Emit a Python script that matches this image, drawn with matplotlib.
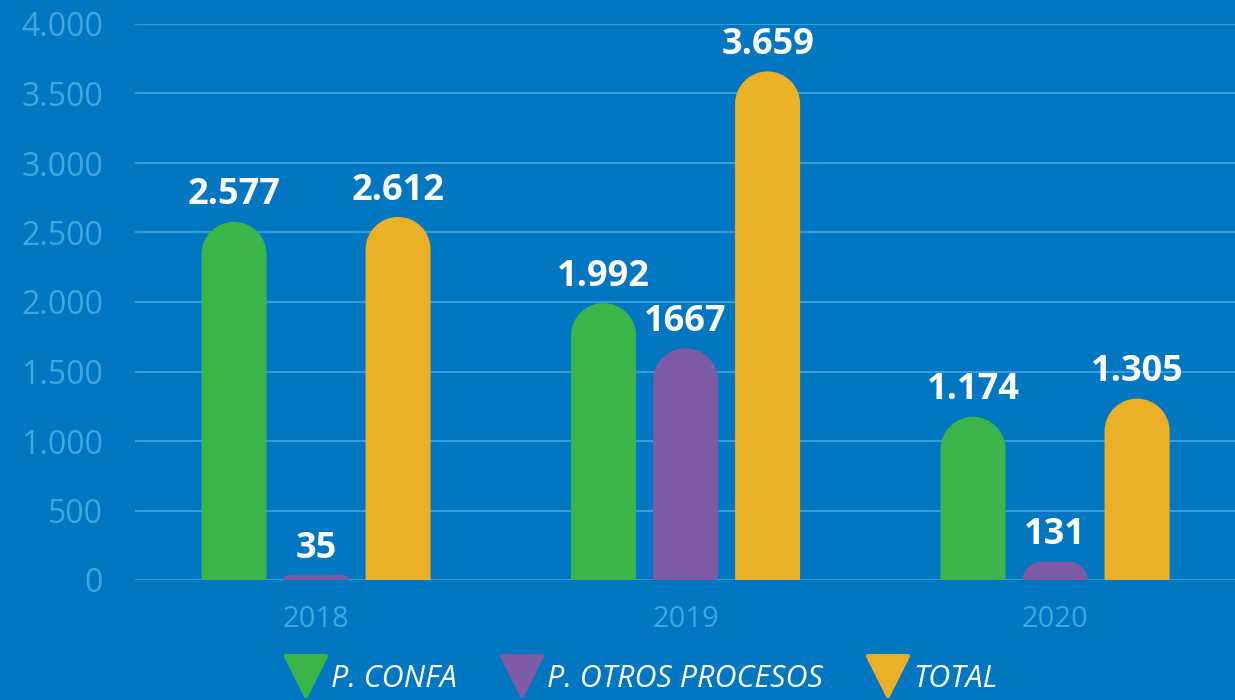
import matplotlib.pyplot as plt
from matplotlib.path import Path
from matplotlib.patches import PathPatch
from matplotlib.lines import Line2D
from matplotlib.markers import MarkerStyle
import numpy as np

# Datos
anios = ['2018', '2019', '2020']
p_confa = [2577, 1992, 1174]
p_otros = [35, 1667, 131]
total = [2612, 3659, 1305]
etiquetas = [['2.577', '1.992', '1.174'],
             ['35', '1667', '131'],
             ['2.612', '3.659', '1.305']]
series = ['P. CONFA', 'P. OTROS PROCESOS', 'TOTAL']
colores = ['#3BB54A', '#7D5BA6', '#EAB128']
ticks_y = ['0', '500', '1.000', '1.500', '2.000', '2.500', '3.000', '3.500', '4.000']

fondo = '#0077C0'
azul_claro = '#40A8E0'

W, H = 1235, 700
fig = plt.figure(figsize=(W / 100, H / 100), dpi=100, facecolor=fondo)
ax_pos = [135 / W, 120 / H, 1 - 135 / W, (580 - 24) / H]
ax = fig.add_axes(ax_pos, facecolor=fondo)

xlim = (-0.49, 2.487)
ylim = (0, 4000)
ax.set_xlim(*xlim)
ax.set_ylim(*ylim)

# escalas px por unidad, para las esquinas redondeadas
px_x = ax_pos[2] * W / (xlim[1] - xlim[0])
px_y = ax_pos[3] * H / (ylim[1] - ylim[0])

ancho = 0.176
sep = 0.222
k = 0.5523


def barra_redondeada(xc, valor, color):
    x0, x1 = xc - ancho / 2, xc + ancho / 2
    r_px = min(ancho * px_x / 2, valor * px_y)
    rx = r_px / px_x
    ry = r_px / px_y
    verts = [(x0, 0), (x0, valor - ry),
             (x0, valor - ry + k * ry), (x0 + rx - k * rx, valor), (x0 + rx, valor),
             (x1 - rx, valor),
             (x1 - rx + k * rx, valor), (x1, valor - ry + k * ry), (x1, valor - ry),
             (x1, 0), (x0, 0)]
    codes = [Path.MOVETO, Path.LINETO,
             Path.CURVE4, Path.CURVE4, Path.CURVE4,
             Path.LINETO,
             Path.CURVE4, Path.CURVE4, Path.CURVE4,
             Path.LINETO, Path.CLOSEPOLY]
    ax.add_patch(PathPatch(Path(verts, codes), facecolor=color, edgecolor='none', zorder=3))


x = np.arange(len(anios))
for i, (vals, col) in enumerate(zip([p_confa, p_otros, total], colores)):
    for j, v in enumerate(vals):
        xc = x[j] + (i - 1) * sep
        barra_redondeada(xc, v, col)
        ax.text(xc, v + 60, etiquetas[i][j], ha='center', va='bottom',
                color='white', fontsize=26, fontweight='bold', fontfamily='Open Sans',
                zorder=4)

# Ejes y cuadrícula
ax.set_yticks(np.arange(0, 4001, 500))
ax.set_yticklabels(ticks_y)
ax.set_xticks(x)
ax.set_xticklabels(anios)
ax.yaxis.grid(True, color=azul_claro, linewidth=1.2, zorder=0)
ax.set_axisbelow(True)
for s in ax.spines.values():
    s.set_visible(False)
ax.tick_params(axis='both', length=0, colors=azul_claro)
ax.tick_params(axis='y', pad=23, labelsize=23)
ax.tick_params(axis='x', pad=18, labelsize=21)
for lab in ax.get_xticklabels() + ax.get_yticklabels():
    lab.set_fontfamily('Open Sans')

# Leyenda
marcador = MarkerStyle('v', joinstyle='round')
handles = [Line2D([], [], marker=marcador, linestyle='none', markersize=29,
                  markerfacecolor=c, markeredgecolor=c, markeredgewidth=3)
           for c in colores]
leg = fig.legend(handles, series, loc='center', bbox_to_anchor=(0.5186, 1 - 679 / H),
                 ncol=3, frameon=False, handlelength=1.45, handletextpad=0.1,
                 columnspacing=1.4,
                 prop={'family': 'Open Sans', 'style': 'italic', 'size': 22})
for t in leg.get_texts():
    t.set_color('white')

fig.savefig('out.png', dpi=100, facecolor=fondo)
